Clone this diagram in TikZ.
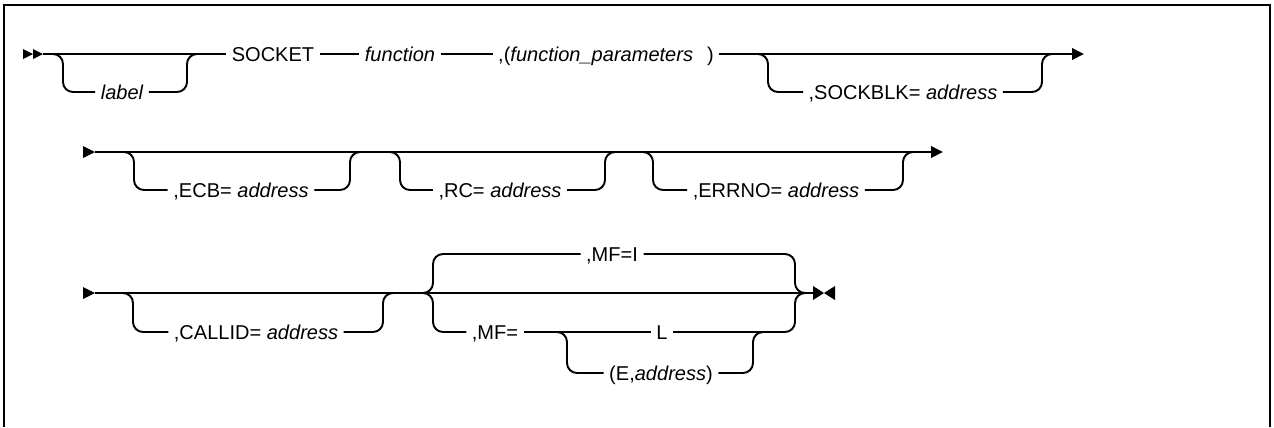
\documentclass[tikz,border=0pt]{standalone}
\usepackage{fontspec}
\setmainfont{Liberation Sans}
\usetikzlibrary{arrows.meta}

\begin{document}
\begin{tikzpicture}[x=0.02cm, y=-0.02cm,
      rail/.style={line width=1.1pt},
      railbend/.style={rail, rounded corners=0.2cm},
      kw/.style={font=\fontsize{11.4}{13}\selectfont, inner xsep=3pt, inner ysep=0pt,
                 text height=8.1pt, text depth=0pt},
      railout/.style={rail, -{Triangle[length=0.24cm, width=0.23cm]}}]

    \useasboundingbox (0,0) rectangle (1274,427);

    % frame, open at the bottom
    \draw[line width=1.5pt] (4,427) -- (4,5) -- (1270,5) -- (1270,427);

    % row 1: statement start
    \coordinate (r1in) at (43,54);
    \fill (r1in) -- ++(-10,-5) -- ++(0,10) -- cycle;
    \fill ([xshift=-0.2cm]r1in) -- ++(-10,-5) -- ++(0,10) -- cycle;
    \coordinate (r1out) at (1084,54);

    \node[kw] (sock) at (273,54) {SOCKET};
    \node[kw] (func) at (400,54) {\itshape function};
    \node[kw] (fparm) at (606,54) {,(\textit{function\_parameters}\hspace{8pt})};
    \node[kw] (lbl) at (122,92) {\itshape label};
    \node[kw] (sblk) at (903,92) {,SOCKBLK= \textit{address}};

    \draw[rail] (r1in) -- (sock);
    \draw[rail] (sock) -- (func);
    \draw[rail] (func) -- (fparm);
    \draw[railout] (fparm) -- (r1out);

    % optional label
    \coordinate (f1) at (63,54);
    \coordinate (j1) at (187,54);
    \draw[railbend] ([xshift=-0.22cm]f1) -- (f1) |- (lbl);
    \draw[railbend] (lbl) -| (j1) -- ([xshift=0.22cm]j1);

    % optional SOCKBLK
    \coordinate (f2) at (768,54);
    \coordinate (j2) at (1042,54);
    \draw[railbend] ([xshift=-0.22cm]f2) -- (f2) |- (sblk);
    \draw[railbend] (sblk) -| (j2) -- ([xshift=0.22cm]j2);

    % row 2
    \coordinate (r2in) at (95,152);
    \fill (r2in) -- ++(-12,-6) -- ++(0,12) -- cycle;
    \coordinate (r2out) at (943,152);
    \draw[railout] (r2in) -- (r2out);

    \node[kw] (ecb) at (241,190) {,ECB= \textit{address}};
    \node[kw] (rc) at (500,190) {,RC= \textit{address}};
    \node[kw] (errno) at (776,190) {,ERRNO= \textit{address}};

    \coordinate (f3) at (134,152);
    \coordinate (j3) at (350,152);
    \draw[railbend] ([xshift=-0.22cm]f3) -- (f3) |- (ecb);
    \draw[railbend] (ecb) -| (j3) -- ([xshift=0.22cm]j3);

    \coordinate (f4) at (400,152);
    \coordinate (j4) at (605,152);
    \draw[railbend] ([xshift=-0.22cm]f4) -- (f4) |- (rc);
    \draw[railbend] (rc) -| (j4) -- ([xshift=0.22cm]j4);

    \coordinate (f5) at (653,152);
    \coordinate (j5) at (903,152);
    \draw[railbend] ([xshift=-0.22cm]f5) -- (f5) |- (errno);
    \draw[railbend] (errno) -| (j5) -- ([xshift=0.22cm]j5);

    % row 3
    \coordinate (r3in) at (95,293);
    \fill (r3in) -- ++(-12,-6) -- ++(0,12) -- cycle;
    \coordinate (r3out) at (813,293);
    \draw[rail] (r3in) -- (r3out);
    % statement end
    \fill (r3out) ++(0,-7) -- ++(11,7) -- ++(-11,7) -- cycle;
    \fill ([xshift=0.44cm]r3out) ++(0,-7) -- ++(-11,7) -- ++(11,7) -- cycle;

    \node[kw] (callid) at (256,332) {,CALLID= \textit{address}};
    \coordinate (f6) at (133,293);
    \coordinate (j6) at (383,293);
    \draw[railbend] ([xshift=-0.22cm]f6) -- (f6) |- (callid);
    \draw[railbend] (callid) -| (j6) -- ([xshift=0.22cm]j6);

    % MF choice, default above
    \node[kw] (mfi) at (612,254) {,MF=I};
    \node[kw] (mfeq) at (495,332) {,MF=};
    \node[kw] (mfl) at (662,332) {L};
    \node[kw] (mfe) at (661,373) {(E,\textit{address})};

    \coordinate (f7) at (433,293);
    \coordinate (j7) at (795,293);
    \draw[railbend] ([xshift=-0.22cm]f7) -- (f7) |- (mfi);
    \draw[railbend] ([xshift=-0.22cm]f7) -- (f7) |- (mfeq);
    \draw[railbend] (mfi) -| (j7) -- ([xshift=0.22cm]j7);
    \draw[railbend] (mfl) -| (j7) -- ([xshift=0.22cm]j7);
    \draw[rail] (mfeq) -- (mfl);

    \coordinate (f8) at (567,332);
    \coordinate (j8) at (753,332);
    \draw[railbend] ([xshift=-0.22cm]f8) -- (f8) |- (mfe);
    \draw[railbend] (mfe) -| (j8) -- ([xshift=0.22cm]j8);

    \end{tikzpicture}
\end{document}
